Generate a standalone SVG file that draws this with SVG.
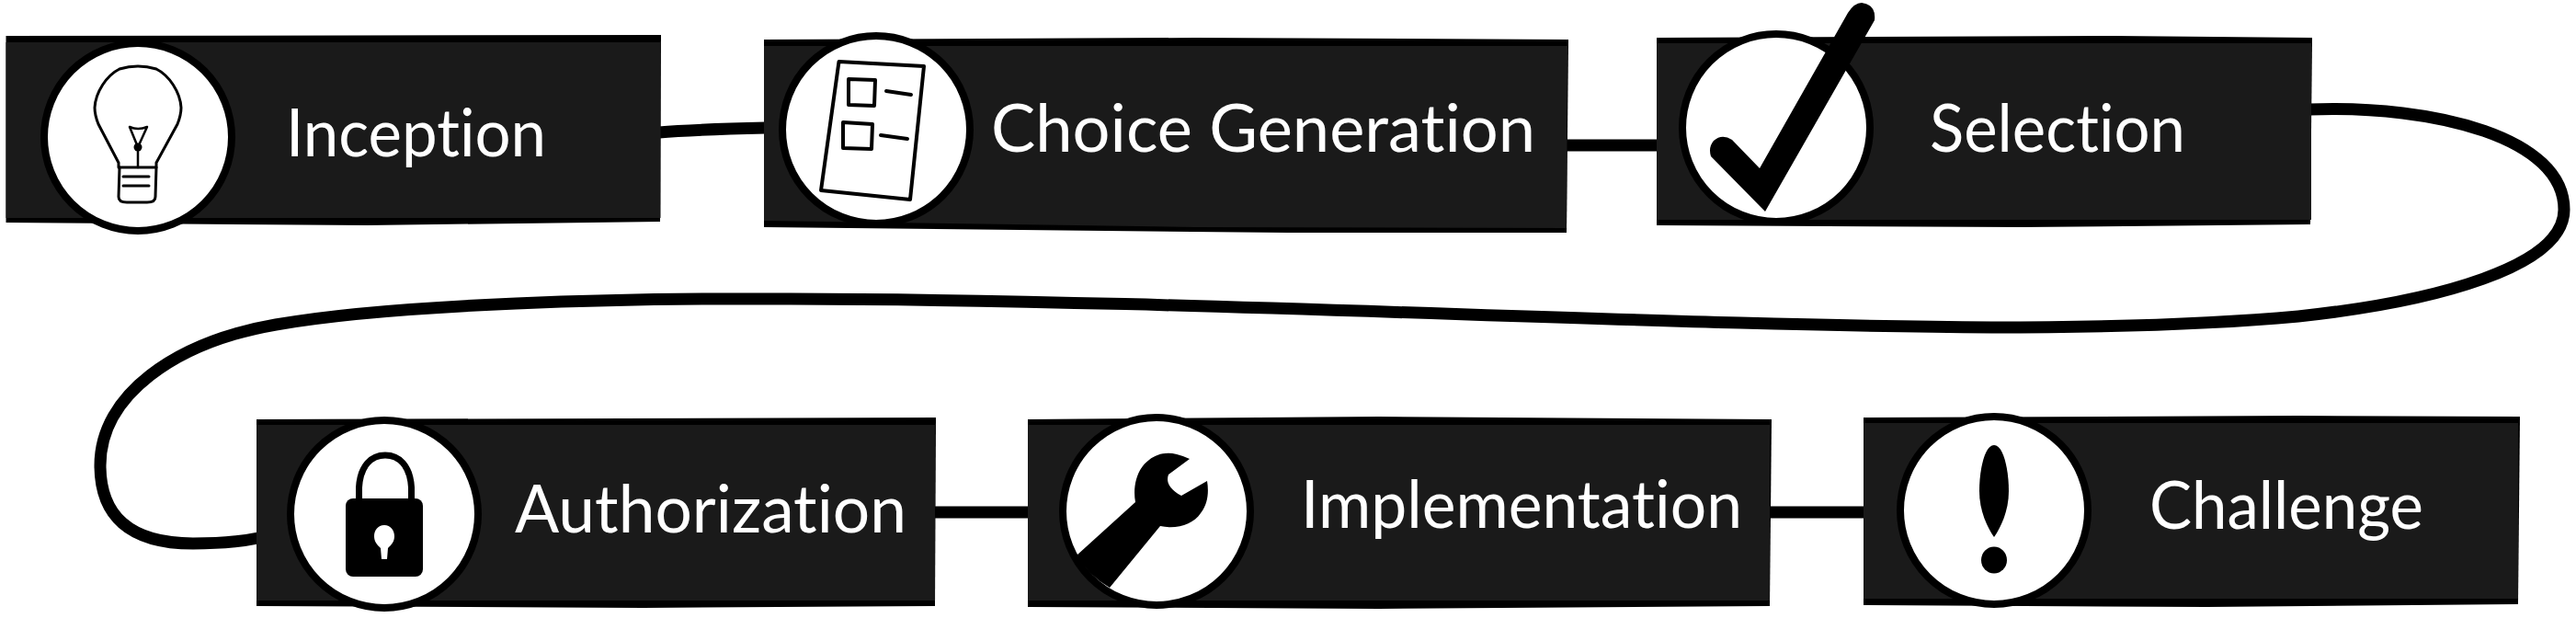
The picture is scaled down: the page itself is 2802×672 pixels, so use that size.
<svg xmlns="http://www.w3.org/2000/svg" width="2802" height="672" viewBox="0 0 2802 672">
<style>
.edge{fill:#000}
.fill{fill:#1a1a1a}
.disc{fill:#fff;stroke:#000;stroke-width:8}
.wire{fill:none;stroke:#000;stroke-width:13}
.ln{fill:none;stroke:#000;stroke-width:3;stroke-linejoin:round;stroke-linecap:round}
.ink{fill:#000}
text{font-family:"Lato","Open Sans","Liberation Sans",sans-serif;font-size:72px;fill:#fff;font-variant-ligatures:none}
</style>
<rect width="2802" height="672" fill="#fff"/>
<g id="connectors">
<path class="wire" d="M717 144 C750 141 790 140 833 139"/>
<path class="wire" d="M1703 158 L1804 158"/>
<path class="wire" d="M2512 119 C2650 114 2789 150 2789 228 C2789 290 2650 328 2500 344 C2390 354 2280 356 2166 356 C1800 354 1300 326 860 325 C680 324 430 330 300 353 C190 372 109 430 109 506 C109 560 140 591 210 591 C240 591 262 589 281 585"/>
<path class="wire" d="M1016 557 L1120 557"/>
<path class="wire" d="M1924 557 L2029 557"/>
</g>
<g id="inception">
<polygon class="edge" points="6.500,39 719,38 718,241 400,245 6.500,242"/>
<rect class="fill" x="6.500" y="46" width="712" height="191"/>
<circle class="disc" cx="150" cy="149" r="102"/>
<path class="ln" d="M129 177 L107 135 Q103 125 103 117 C104 100 116 82 130 75 Q150 69 170 75 C184 82 196 100 197 117 Q197 125 193 135 L170 177 L170 182 L129 182 Z"/>
<path class="ln" d="M130 182 L129 214 Q129 220 138 220 L160 220 Q169 220 169 214 L170 182 M134 192 L162 192 M134 202 L162 202"/>
<path class="ln" style="stroke-width:2.500" d="M141 138 L150 160 L160 138 Q150 142 141 138 M150 160 L150 182"/>
<circle class="ink" cx="150" cy="160" r="4.500"/>
<text x="311" y="170" textLength="283" lengthAdjust="spacingAndGlyphs">Inception</text>
</g>
<g id="choice-generation">
<polygon class="edge" points="831,43 1300,41 1706,43 1704,253 1400,253 831,247"/>
<polygon class="fill" points="831,50 1705,50 1704,248 1300,247 831,240"/>
<circle class="disc" cx="953" cy="141" r="102"/>
<path class="ln" style="stroke-width:4" d="M912.500 67 L1005 72 L990 217 L893 207 Z M923 86 L952 87 L951 115 L923 114 Z M917 133 L949 135 L948 162 L917 161 Z M964 99 L991 103 M958 147 L987 151"/>
<text x="1078" y="165" textLength="592" lengthAdjust="spacingAndGlyphs">Choice Generation</text>
</g>
<g id="selection">
<polygon class="edge" points="1802,41 2300,39 2515,41 2513,244 2200,247 1802,245"/>
<rect class="fill" x="1802" y="47" width="712" height="192"/>
<circle class="disc" cx="1932" cy="139" r="102"/>
<path class="ink" d="M2010 14 Q2017 3 2025 3 Q2041 5 2039 22 L1920 230 L1861 170 Q1858 160 1864 153 Q1873 145 1884 152 L1914 183 Z"/>
<text x="2099" y="165" textLength="278" lengthAdjust="spacingAndGlyphs">Selection</text>
</g>
<g id="authorization">
<polygon class="edge" points="279,456 1018,454 1017,659 700,661 279,659"/>
<rect class="fill" x="279" y="462" width="738" height="191"/>
<circle class="disc" cx="418" cy="559" r="102"/>
<path class="ln" style="stroke-width:7" d="M390.500 545 L390.500 530 C392 506 404 495 419 495 C434 495 446 506 447.500 530 L447.500 545"/>
<rect class="ink" x="376" y="542" width="84" height="85" rx="8"/>
<path fill="#fff" d="M418 571 C411 571 407 577 407 583 C407 589 410 592 414 596 L415 608 L421 608 L422 596 C426 592 429 589 429 583 C429 577 425 571 418 571 Z"/>
<text x="560" y="579" textLength="426" lengthAdjust="spacingAndGlyphs">Authorization</text>
</g>
<g id="implementation">
<polygon class="edge" points="1118,456 1500,453 1927,456 1925,659 1500,662 1118,660"/>
<rect class="fill" x="1118" y="462" width="807" height="191"/>
<circle class="disc" cx="1258" cy="556" r="102"/>
<path class="ink" d="M1171 604 L1235 546 C1232 530 1236 510 1250 500 C1258 494 1268 491 1280 494 Q1288 496 1294 499 L1271 516 C1268 524 1272 532 1285 539 L1313 523 C1315 535 1314 548 1306 558 C1298 570 1280 576 1262 572 L1207 639 A100 100 0 0 1 1171 604 Z"/>
<text x="1415" y="574" textLength="480" lengthAdjust="spacingAndGlyphs">Implementation</text>
</g>
<g id="challenge">
<polygon class="edge" points="2027,454 2500,452 2741,453 2739,657 2400,660 2027,658"/>
<rect class="fill" x="2027" y="460" width="712" height="191"/>
<circle class="disc" cx="2169" cy="555" r="102"/>
<path class="ink" d="M2169 484 C2179 484 2185 510 2185 534 C2185 556 2176 574 2169 584 C2162 574 2153 556 2153 534 C2153 510 2159 484 2169 484 Z"/>
<ellipse class="ink" cx="2169" cy="609" rx="14" ry="14.500"/>
<text x="2338" y="575" textLength="298" lengthAdjust="spacingAndGlyphs">Challenge</text>
</g>
</svg>
